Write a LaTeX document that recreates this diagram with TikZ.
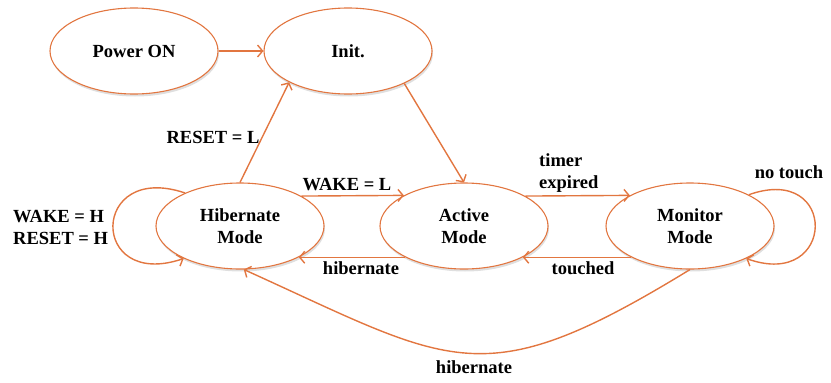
\documentclass[tikz,border=0pt]{standalone}
\usepackage{fontspec}
\setmainfont{Liberation Serif}
\usetikzlibrary{shapes.geometric,arrows.meta,shadows}
\definecolor{edgeorange}{RGB}{226,118,64}
\tikzset{
  state/.style={ellipse, draw=edgeorange, line width=1.1pt, fill=white,
    minimum width=168pt, minimum height=86pt, inner sep=0pt, align=center,
    font=\bfseries\fontsize{18.5}{22}\selectfont,
    drop shadow={shadow xshift=1pt, shadow yshift=-2.5pt, opacity=.25}},
  trans/.style={draw=edgeorange, line width=1.4pt,
    -{Straight Barb[length=5pt,width=12pt,line width=1.4pt]}},
  lbl/.style={font=\bfseries\fontsize{18.5}{22}\selectfont, inner sep=0pt, align=left}
}
\begin{document}
\begin{tikzpicture}[x=1pt,y=-1pt]
\useasboundingbox (0,0) rectangle (831,383);

% states
\node[state] (pw)   at (134,51)  {Power ON};
\node[state] (init) at (348,51)  {Init.};
\node[state] (hib)  at (240,226) {Hibernate\\Mode};
\node[state] (act)  at (464,226) {Active\\Mode};
\node[state] (mon)  at (690,226) {Monitor\\Mode};

% transitions
\draw[trans] (pw.east) -- (init.west);
\draw[trans] (hib.north) -- (init.208);
\draw[trans] (init.330) -- (act.north);
\draw[trans] (hib.26.5) -- (act.153.5);
\draw[trans] (act.208) -- (hib.332);
\draw[trans] (act.26.5) -- (mon.153.5);
\draw[trans] (mon.208) -- (act.332);
\draw[trans] (hib.149) .. controls +(-95,-32) and +(-95,32) .. (hib.210);
\draw[trans] (mon.28) .. controls +(90,-32) and +(90,32) .. (mon.330);
\draw[trans] (mon.south) .. controls +(-209,128) and +(210,95) .. (hib.-85);

% labels
\node[lbl] (lreset) at (213,137) {RESET = L};
\node[lbl] (lwakel) at (347,185) {WAKE = L};
\node[lbl] (lhib1)  at (361,268) {hibernate};
\node[lbl, anchor=west] (lwakeh) at (13,227) {WAKE = H\\RESET = H};
\node[lbl, anchor=west] (ltimer) at (539,173) {timer\\expired};
\node[lbl] (ltouch) at (583,268) {touched};
\node[lbl] (lnot)   at (789,172) {no touch};
\node[lbl] (lhib2)  at (474,367) {hibernate};
\end{tikzpicture}
\end{document}
